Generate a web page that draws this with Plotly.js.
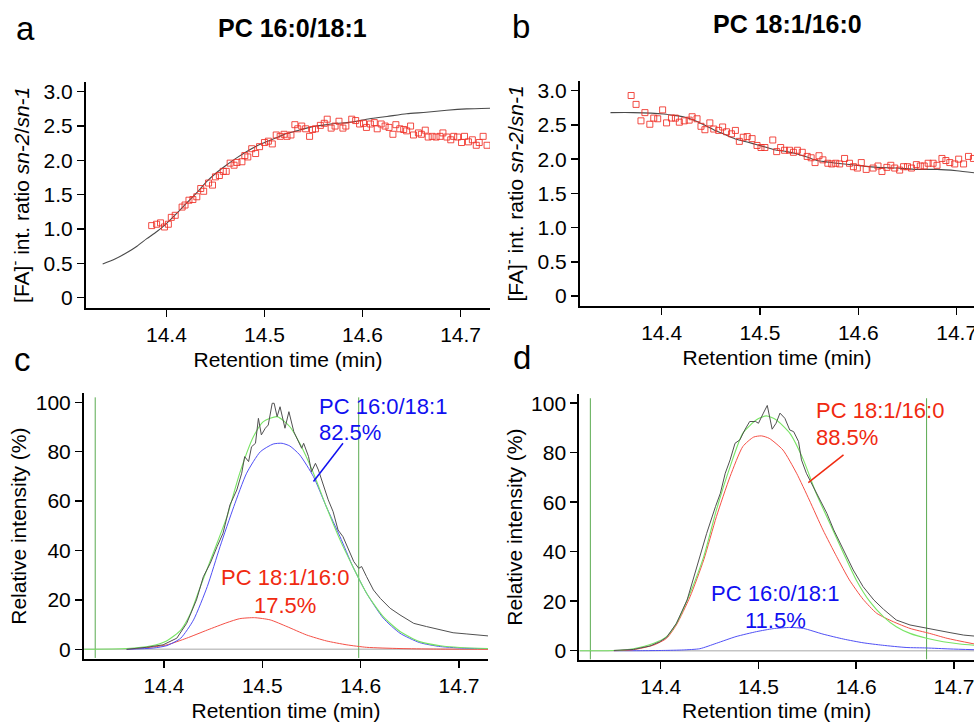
<!DOCTYPE html>
<html>
<head>
<meta charset="utf-8">
<script src="https://cdn.plot.ly/plotly-3.0.1.min.js"></script>
<style>html,body{margin:0;padding:0;background:#fff;overflow:hidden}#chart{width:974px;height:722px}</style>
</head>
<body>
<div id="chart"></div>
<script>
// ---------- Panel a: PC 16:0/18:1, [FA]- ratio sn-2/sn-1 ----------
const aTime = [14.385,14.390,14.394,14.398,14.402,14.405,14.409,14.416,14.419,14.423,14.427,14.431,14.435,14.438,14.443,14.447,14.450,14.454,14.458,14.461,14.465,14.469,14.472,14.477,14.480,14.483,14.487,14.491,14.495,14.500,14.504,14.508,14.512,14.516,14.520,14.523,14.527,14.531,14.534,14.538,14.542,14.546,14.549,14.552,14.557,14.561,14.564,14.568,14.572,14.576,14.580,14.583,14.589,14.593,14.597,14.601,14.604,14.608,14.612,14.615,14.619,14.623,14.627,14.631,14.634,14.638,14.642,14.645,14.649,14.652,14.657,14.660,14.664,14.667,14.671,14.675,14.679,14.682,14.686,14.690,14.693,14.697,14.701,14.704,14.708,14.712,14.716,14.719,14.723,14.727];
const aRatio = [1.05,1.07,1.09,1.03,1.07,1.17,1.20,1.32,1.35,1.42,1.43,1.47,1.59,1.55,1.67,1.64,1.76,1.78,1.84,1.84,1.96,1.93,1.97,1.98,2.07,2.05,2.17,2.10,2.20,2.26,2.28,2.24,2.37,2.35,2.38,2.35,2.37,2.52,2.46,2.50,2.46,2.35,2.45,2.46,2.51,2.54,2.60,2.47,2.50,2.57,2.47,2.50,2.60,2.58,2.53,2.54,2.48,2.53,2.55,2.46,2.53,2.50,2.48,2.38,2.52,2.46,2.45,2.43,2.50,2.37,2.40,2.38,2.44,2.34,2.35,2.34,2.35,2.40,2.34,2.30,2.35,2.34,2.26,2.35,2.27,2.30,2.22,2.26,2.35,2.22];
const aFitTime = [14.335,14.347,14.359,14.370,14.380,14.390,14.400,14.410,14.420,14.431,14.441,14.451,14.461,14.472,14.482,14.492,14.502,14.512,14.522,14.533,14.543,14.553,14.563,14.574,14.584,14.594,14.604,14.625,14.645,14.665,14.686,14.706,14.730];
const aFitRatio = [0.49,0.56,0.65,0.75,0.86,0.96,1.08,1.22,1.37,1.53,1.69,1.82,1.93,2.04,2.13,2.21,2.27,2.33,2.39,2.43,2.47,2.50,2.52,2.54,2.55,2.57,2.60,2.64,2.68,2.70,2.73,2.75,2.76];

// ---------- Panel b: PC 18:1/16:0 ----------
const bTime = [14.369,14.374,14.379,14.383,14.388,14.392,14.396,14.401,14.405,14.410,14.414,14.418,14.423,14.428,14.431,14.436,14.440,14.444,14.449,14.453,14.458,14.462,14.466,14.471,14.475,14.479,14.483,14.487,14.492,14.497,14.501,14.505,14.513,14.517,14.521,14.525,14.530,14.534,14.538,14.543,14.548,14.552,14.556,14.560,14.564,14.569,14.573,14.577,14.581,14.586,14.591,14.595,14.599,14.603,14.608,14.615,14.620,14.624,14.629,14.633,14.637,14.642,14.646,14.650,14.654,14.659,14.663,14.667,14.671,14.676,14.680,14.685,14.689,14.693,14.698,14.702,14.707,14.712,14.717];
const bRatio = [2.93,2.80,2.56,2.68,2.51,2.60,2.59,2.72,2.53,2.60,2.60,2.54,2.56,2.57,2.62,2.59,2.48,2.43,2.53,2.44,2.42,2.47,2.40,2.37,2.42,2.26,2.32,2.33,2.30,2.20,2.17,2.17,2.28,2.11,2.17,2.13,2.13,2.10,2.13,2.10,2.04,2.02,1.95,2.05,1.99,1.94,1.93,1.94,1.93,2.01,1.94,1.89,1.87,1.95,1.85,1.87,1.90,1.82,1.88,1.91,1.87,1.84,1.89,1.89,1.87,1.92,1.90,1.90,1.94,1.94,1.91,2.01,1.98,1.95,1.93,2.00,1.93,2.04,2.01];
const bFitTime = [14.348,14.371,14.402,14.412,14.422,14.429,14.436,14.446,14.456,14.466,14.476,14.487,14.497,14.507,14.517,14.527,14.537,14.548,14.558,14.568,14.578,14.598,14.619,14.639,14.659,14.680,14.700,14.718];
const bFitRatio = [2.68,2.68,2.66,2.64,2.62,2.59,2.55,2.48,2.41,2.35,2.29,2.25,2.21,2.17,2.13,2.11,2.08,2.03,1.98,1.96,1.94,1.91,1.88,1.87,1.85,1.85,1.83,1.80];

// ---------- Panel c: chromatogram, PC 16:0/18:1 standard ----------
const cObsTime = [14.362,14.382,14.399,14.413,14.423,14.433,14.440,14.447,14.454,14.460,14.467,14.474,14.479,14.482,14.486,14.489,14.493,14.496,14.499,14.503,14.506,14.510,14.512,14.515,14.518,14.521,14.523,14.527,14.532,14.536,14.540,14.542,14.547,14.550,14.554,14.557,14.562,14.567,14.572,14.577,14.582,14.588,14.593,14.598,14.601,14.606,14.613,14.620,14.630,14.640,14.654,14.667,14.681,14.694,14.708,14.721,14.730];
const cObs = [0.0,0.8,1.8,4.5,10.5,20.0,29.4,34.8,41.6,47.0,58.4,64.5,71.3,78.0,76.0,82.0,83.4,93.5,86.8,89.5,90.8,99.6,99.6,94.2,98.2,92.8,89.5,96.2,88.1,84.7,81.4,83.4,78.0,71.9,75.3,72.6,66.5,60.5,55.7,48.3,45.6,40.2,35.5,32.8,33.5,29.4,24.0,20.6,16.6,13.9,10.5,9.2,7.8,6.7,6.2,5.7,5.4];
const cSumTime = [14.319,14.362,14.386,14.403,14.417,14.427,14.437,14.450,14.464,14.477,14.491,14.501,14.515,14.528,14.538,14.552,14.565,14.579,14.592,14.606,14.623,14.640,14.660,14.681,14.701,14.730];
const cSum = [0.0,0.3,1.3,3.5,7.8,14.6,25.4,38.9,53.7,71.3,86.1,92.2,94.2,90.1,83.4,71.3,57.8,44.3,33.5,22.7,13.2,7.2,3.1,1.4,0.7,0.3];
const cFitTime = [14.362,14.389,14.403,14.417,14.430,14.444,14.457,14.471,14.484,14.498,14.511,14.520,14.528,14.538,14.552,14.565,14.579,14.592,14.606,14.623,14.640,14.660,14.681,14.708,14.730];
const cBlue = [0.0,0.5,1.5,4.5,11.9,25.4,41.6,57.8,71.3,80.0,83.1,83.4,82.3,78.7,69.9,57.8,45.6,33.5,22.7,12.6,6.5,2.7,1.1,0.4,0.3];
const cRedTime = [14.362,14.386,14.403,14.423,14.444,14.464,14.477,14.492,14.508,14.525,14.545,14.565,14.586,14.606,14.640,14.674,14.730];
const cRed = [0.0,0.8,1.8,4.5,7.8,10.8,12.4,12.8,11.9,9.2,5.8,3.4,1.8,0.8,0.3,0.1,0.0];
const cBounds = [14.330,14.598];

// ---------- Panel d: chromatogram, PC 18:1/16:0 standard ----------
const dObsTime = [14.352,14.372,14.389,14.399,14.406,14.416,14.427,14.437,14.447,14.456,14.461,14.466,14.471,14.476,14.481,14.486,14.491,14.497,14.500,14.505,14.509,14.514,14.518,14.522,14.527,14.532,14.536,14.541,14.544,14.549,14.556,14.563,14.570,14.577,14.587,14.597,14.607,14.618,14.628,14.641,14.655,14.669,14.682,14.696,14.710,14.721];
const dObs = [0.1,0.5,1.9,3.6,5.4,11.0,20.5,34.0,47.4,58.2,63.6,71.7,77.1,83.8,85.2,89.2,92.6,92.6,91.9,96.0,99.1,89.5,91.9,96.0,93.9,89.2,88.5,84.5,77.1,71.7,66.3,60.9,55.5,48.8,40.7,32.6,25.9,20.5,16.7,12.4,10.4,9.3,8.1,7.3,6.3,5.9];
const dSumTime = [14.317,14.352,14.372,14.393,14.406,14.416,14.430,14.444,14.457,14.471,14.484,14.498,14.508,14.518,14.532,14.546,14.559,14.573,14.587,14.600,14.614,14.628,14.641,14.655,14.672,14.689,14.706,14.721];
const dSum = [0.0,0.1,0.8,3.0,5.7,11.0,23.2,38.0,56.9,74.4,87.9,93.3,94.9,93.3,87.9,77.1,63.6,51.5,39.4,28.6,19.8,13.7,9.7,7.0,5.0,3.6,2.7,2.2];
const dRedTime = [14.352,14.372,14.393,14.406,14.416,14.430,14.444,14.457,14.471,14.484,14.495,14.503,14.511,14.525,14.539,14.552,14.566,14.580,14.593,14.607,14.621,14.638,14.655,14.675,14.693,14.721];
const dRed = [0.0,0.4,2.3,5.0,10.4,21.8,36.7,54.2,70.4,82.5,86.3,86.8,85.8,81.1,71.7,60.9,48.8,38.0,28.6,20.8,15.1,11.7,9.0,7.0,5.0,2.7];
const dBlueTime = [14.352,14.379,14.403,14.423,14.440,14.457,14.477,14.498,14.515,14.532,14.546,14.566,14.587,14.607,14.627,14.651,14.672,14.696,14.721];
const dBlue = [0.0,0.0,0.1,0.3,0.8,3.0,5.7,7.7,8.9,9.4,9.0,6.7,4.7,3.2,2.2,1.3,1.1,0.7,0.4];
const dBounds = [14.328,14.672];

// ---------- labels ----------
const panelTitles = ["PC 16:0/18:1", "PC 18:1/16:0"];
const panelLetters = ["a", "b", "c", "d"];
const xTickVals = [14.4, 14.5, 14.6, 14.7];
const xTickText = ["14.4", "14.5", "14.6", "14.7"];
const ratioTickVals = [0, 0.5, 1, 1.5, 2, 2.5, 3];
const ratioTickText = ["0", "0.5", "1.0", "1.5", "2.0", "2.5", "3.0"];
const intTickVals = [0, 20, 40, 60, 80, 100];
const intTickText = ["0", "20", "40", "60", "80", "100"];
const xTitle = "Retention time (min)";
const ratioTitle = "[FA]<sup>-</sup> int. ratio <i>sn-2</i>/<i>sn-1</i>";
const intTitle = "Relative intensity (%)";
const cLabels = {blue: ["PC 16:0/18:1", "82.5%"], red: ["PC 18:1/16:0", "17.5%"]};
const dLabels = {red: ["PC 18:1/16:0", "88.5%"], blue: ["PC 16:0/18:1", "11.5%"]};
// label anchor positions: [time, line-1 intensity, line-2 intensity]
const cBlueLabelPos = [14.556, 98.4, 87.6];
const cRedLabelPos = [14.523, 28.9, 17.8];
const dRedLabelPos = [14.557, 97.1, 86.2];
const dBlueLabelPos = [14.517, 23.3, 12.3];
const cLeaderT = [14.582, 14.552], cLeaderY = [83.4, 67.9];
const dLeaderT = [14.587, 14.551], dLeaderY = [79.1, 67.9];

const FONT = "Liberation Sans, Arial, Helvetica, sans-serif";
const RED_PT = "rgba(240,45,35,0.85)";
const FIT = "#4a4a4a";
const BLUE_T = "#1010f0", RED_T = "#f02a10";
const BLUE_L = "rgb(80,80,245)", RED_L = "rgb(245,80,70)", GREEN_L = "rgb(120,228,100)", GREEN_V = "rgb(90,170,80)";

function line(x, y, xa, ya, color, w) {
  return {x: x, y: y, xaxis: xa, yaxis: ya, type: "scatter", mode: "lines",
          line: {color: color, width: w, shape: "spline", smoothing: 0.6}, hoverinfo: "skip"};
}
function straight(x, y, xa, ya, color, w) {
  return {x: x, y: y, xaxis: xa, yaxis: ya, type: "scatter", mode: "lines",
          line: {color: color, width: w}, hoverinfo: "skip"};
}

const traces = [];
// a
traces.push(line(aFitTime, aFitRatio, "x", "y", FIT, 1.1));
traces.push({x: aTime, y: aRatio, xaxis: "x", yaxis: "y", type: "scatter", mode: "markers",
  marker: {symbol: "square-open", size: 6, color: RED_PT, line: {width: 1, color: RED_PT}}});
// b
traces.push(line(bFitTime, bFitRatio, "x2", "y2", FIT, 1.1));
traces.push({x: bTime, y: bRatio, xaxis: "x2", yaxis: "y2", type: "scatter", mode: "markers",
  marker: {symbol: "square-open", size: 6, color: RED_PT, line: {width: 1, color: RED_PT}}});
// c
traces.push(straight([14.3186, 14.7295], [0, 0], "x3", "y3", "#c4c4c4", 1.5));
traces.push(straight([cBounds[0], cBounds[0]], [-3.5, 102], "x3", "y3", GREEN_V, 1));
traces.push(straight([cBounds[1], cBounds[1]], [-3.5, 102], "x3", "y3", GREEN_V, 1));
traces.push(line(cRedTime, cRed, "x3", "y3", RED_L, 1));
traces.push(line(cFitTime, cBlue, "x3", "y3", BLUE_L, 1));
traces.push(line(cSumTime, cSum, "x3", "y3", GREEN_L, 1.1));
traces.push(straight(cObsTime, cObs, "x3", "y3", "#505050", 1));
traces.push(straight(cLeaderT, cLeaderY, "x3", "y3", BLUE_T, 1.5));
// d
traces.push(straight([14.3167, 14.7205], [0, 0], "x4", "y4", "#c4c4c4", 1.5));
traces.push(straight([dBounds[0], dBounds[0]], [-3.5, 102], "x4", "y4", GREEN_V, 1));
traces.push(straight([dBounds[1], dBounds[1]], [-3.5, 102], "x4", "y4", GREEN_V, 1));
traces.push(line(dBlueTime, dBlue, "x4", "y4", BLUE_L, 1));
traces.push(line(dRedTime, dRed, "x4", "y4", RED_L, 1));
traces.push(line(dSumTime, dSum, "x4", "y4", GREEN_L, 1.1));
traces.push(straight(dObsTime, dObs, "x4", "y4", "#505050", 1));
traces.push(straight(dLeaderT, dLeaderY, "x4", "y4", RED_T, 1.5));

function xAxis(domain, range, anchor, standoff) {
  return {domain: domain, range: range, anchor: anchor, showline: true, linecolor: "#000", linewidth: 2,
    ticks: "outside", ticklen: 7, tickwidth: 1.5, tickcolor: "#000", showgrid: false, zeroline: false,
    tickmode: "array", tickvals: xTickVals, ticktext: xTickText, ticklabeloverflow: "allow",
    tickfont: {family: FONT, size: 21, color: "#000"},
    title: {text: xTitle, font: {family: FONT, size: 21, color: "#000"}, standoff: standoff}};
}
function yAxis(domain, range, anchor, vals, text, title, standoff) {
  return {domain: domain, range: range, anchor: anchor, showline: true, linecolor: "#000", linewidth: 2,
    ticks: "outside", ticklen: 7, tickwidth: 1.5, tickcolor: "#000", showgrid: false, zeroline: false,
    tickmode: "array", tickvals: vals, ticktext: text,
    tickfont: {family: FONT, size: 21, color: "#000"},
    title: {text: title, font: {family: FONT, size: 21, color: "#000"}, standoff: standoff}};
}

const ann = [];
ann.push({xref: "paper", yref: "paper", x: 292/974, y: 1 - 28/722, text: "<b>" + panelTitles[0] + "</b>",
  showarrow: false, font: {family: FONT, size: 25, color: "#000"}, xanchor: "center", yanchor: "middle"});
ann.push({xref: "paper", yref: "paper", x: 787/974, y: 1 - 24/722, text: "<b>" + panelTitles[1] + "</b>",
  showarrow: false, font: {family: FONT, size: 25, color: "#000"}, xanchor: "center", yanchor: "middle"});
const letterPos = [[25, 29], [521, 27], [22, 359], [522, 357]];
panelLetters.forEach((l, i) => {
  ann.push({xref: "paper", yref: "paper", x: letterPos[i][0]/974, y: 1 - letterPos[i][1]/722, text: l,
    showarrow: false, font: {family: FONT, size: 33, color: "#000"}, xanchor: "center", yanchor: "middle"});
});
function label(xref, yref, pos, lines, anchor, color) {
  lines.forEach((t, i) => {
    ann.push({xref: xref, yref: yref, x: pos[0], y: pos[1 + i], text: t, showarrow: false,
      xanchor: anchor, yanchor: "middle", font: {family: FONT, size: 22, color: color}});
  });
}
label("x3", "y3", cBlueLabelPos, cLabels.blue, "left", BLUE_T);
label("x3", "y3", cRedLabelPos, cLabels.red, "center", RED_T);
label("x4", "y4", dRedLabelPos, dLabels.red, "left", RED_T);
label("x4", "y4", dBlueLabelPos, dLabels.blue, "center", BLUE_T);

const layout = {
  width: 974, height: 722, margin: {l: 0, r: 0, t: 0, b: 0},
  paper_bgcolor: "#fff", plot_bgcolor: "#fff", showlegend: false,
  font: {family: FONT, color: "#000"},
  xaxis: xAxis([86/974, 490/974], [14.318, 14.730], "y", 7),
  yaxis: yAxis([1 - 308/722, 1 - 81.7/722], [-0.15, 3.146], "x", ratioTickVals, ratioTickText, ratioTitle, 8),
  xaxis2: xAxis([580/974, 1], [14.317, 14.7176], "y2", 7),
  yaxis2: yAxis([1 - 306/722, 1 - 81/722], [-0.146, 3.142], "x2", ratioTickVals, ratioTickText, ratioTitle, 8),
  xaxis3: xAxis([84/974, 488/974], [14.3186, 14.7295], "y3", 12),
  yaxis3: yAxis([1 - 659/722, 1 - 393.3/722], [-3.93, 103.64], "x3", intTickVals, intTickText, intTitle, 3),
  xaxis4: xAxis([579.3/974, 1], [14.3167, 14.7205], "y4", 12),
  yaxis4: yAxis([1 - 660/722, 1 - 394.3/722], [-3.76, 103.6], "x4", intTickVals, intTickText, intTitle, 3),
  annotations: ann
};

Plotly.newPlot("chart", traces, layout, {displayModeBar: false, staticPlot: true});
</script>
</body>
</html>
